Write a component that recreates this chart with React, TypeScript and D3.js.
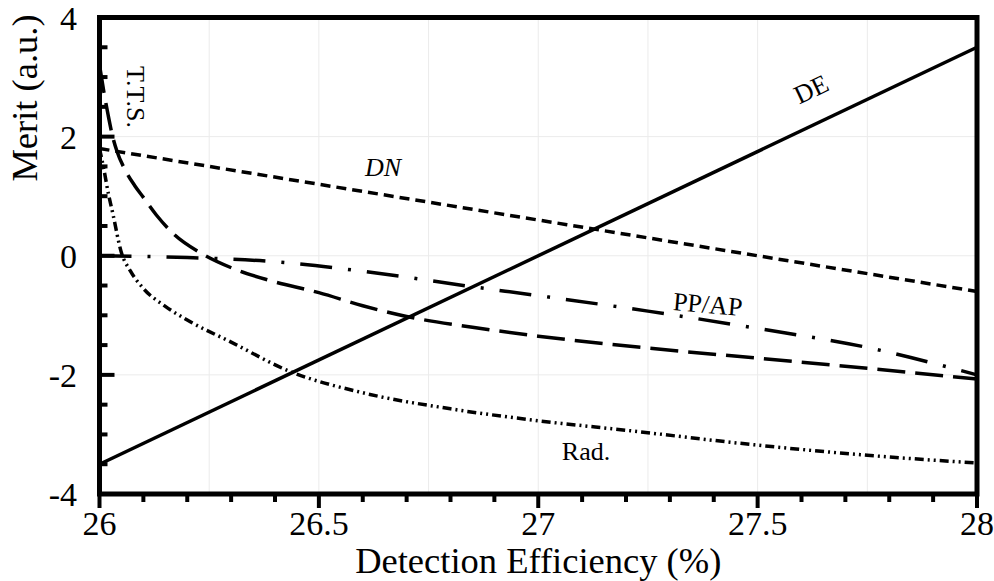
import React from "react";
import * as d3 from "d3";

const xTicksMajor = [26, 26.5, 27, 27.5, 28];
const xTickLabels = ["26", "26.5", "27", "27.5", "28"];
const yTicksMajor = [-4, -2, 0, 2, 4];
const yTickLabels = ["-4", "-2", "0", "2", "4"];

const deX = [26, 28];
const deY = [-3.5, 3.5];

const dnX = [26, 26.5, 27, 27.5, 28];
const dnY = [1.8, 1.2, 0.6, 0.0, -0.6];

const ttsX = [26.0, 26.01, 26.02, 26.03, 26.04, 26.06, 26.08, 26.1, 26.13, 26.17, 26.23, 26.31, 26.39, 26.5, 26.6, 26.7, 26.85, 27.0, 27.25, 27.5, 27.75, 28.0];
const ttsY = [3.2, 2.75, 2.35, 2.0, 1.75, 1.42, 1.18, 0.98, 0.68, 0.36, 0.05, -0.23, -0.42, -0.62, -0.84, -1.02, -1.2, -1.35, -1.55, -1.72, -1.89, -2.07];

const ppX = [26.0, 26.2, 26.4, 26.6, 26.85, 27.0, 27.25, 27.5, 27.75, 28.0];
const ppY = [0.0, -0.03, -0.1, -0.26, -0.52, -0.67, -0.93, -1.22, -1.54, -2.0];

const radX = [26.0, 26.01, 26.02, 26.03, 26.05, 26.07, 26.1, 26.15, 26.2, 26.3, 26.43, 26.6, 26.8, 27.0, 27.2, 27.5, 27.75, 28.0];
const radY = [1.8, 1.45, 1.05, 0.72, 0.05, -0.25, -0.55, -0.85, -1.08, -1.45, -1.93, -2.3, -2.57, -2.77, -2.93, -3.18, -3.35, -3.48];

const W = 994, H = 581;
const L = 99.5, R = 977, T = 17.5, B = 494;
const FONT = "Liberation Serif";

export default function App() {
  const x = d3.scaleLinear().domain([26, 28]).range([L, R]);
  const y = d3.scaleLinear().domain([-4, 4]).range([B, T]);
  const mk = (xs: number[], ys: number[]) =>
    d3.line<number>().x((_, i) => x(xs[i])).y((_, i) => y(ys[i])).curve(d3.curveMonotoneX)(xs) || "";

  const gridX = d3.range(0, 9).map((i) => 26 + i * 0.25);
  const gridY = [-2, 0, 2];
  const minorX = d3.range(1, 20).map((i) => 26 + i * 0.1).filter((v) => Math.abs(v * 2 - Math.round(v * 2)) > 1e-6);
  const minorY = d3.range(-4, 4.01, 0.5).filter((v) => Math.abs(v / 2 - Math.round(v / 2)) > 1e-6);

  const angDE = (Math.atan2(y(3.5) - y(-3.5), x(28) - x(26)) * 180) / Math.PI;
  const ts = { fontFamily: FONT };

  return (
    <svg width={W} height={H} style={{ position: "absolute", left: 0, top: 0, background: "#fff" }}>
      <g stroke="#ebebeb" strokeWidth={1}>
        {gridX.map((v) => (
          <line key={"gx" + v} x1={x(v)} x2={x(v)} y1={T} y2={B} />
        ))}
        {gridY.map((v) => (
          <line key={"gy" + v} x1={L} x2={R} y1={y(v)} y2={y(v)} />
        ))}
      </g>

      <g fill="none" stroke="#000" strokeWidth={3.5}>
        <path d={mk(deX, deY)} />
        <path d={mk(dnX, dnY)} strokeDasharray="10,6" />
        <path d={mk(ttsX, ttsY)} strokeDasharray="28,10" />
        <path d={mk(ppX, ppY)} strokeDasharray="32,16,3,16" />
        <path d={mk(radX, radY)} strokeDasharray="9,4,2,4,2,4" />
      </g>

      <rect x={L} y={T} width={R - L} height={B - T} fill="none" stroke="#000" strokeWidth={5} />

      <g stroke="#000" strokeWidth={4}>
        {xTicksMajor.map((v) => (
          <line key={"xM" + v} x1={x(v)} x2={x(v)} y1={B} y2={B + 14} />
        ))}
        {minorX.map((v) => (
          <line key={"xm" + v} x1={x(v)} x2={x(v)} y1={B} y2={B + 8} />
        ))}
        {yTicksMajor.map((v) => (
          <line key={"yM" + v} x1={L} x2={L + 15} y1={y(v)} y2={y(v)} />
        ))}
        {minorY.map((v) => (
          <line key={"ym" + v} x1={L} x2={L + 8} y1={y(v)} y2={y(v)} />
        ))}
      </g>

      <g fontSize={34} fill="#000">
        {xTicksMajor.map((v, i) => (
          <text key={"xl" + v} x={x(v)} y={535} textAnchor="middle" style={ts}>
            {xTickLabels[i]}
          </text>
        ))}
        {yTicksMajor.map((v, i) => (
          <text key={"yl" + v} x={77} y={y(v) + 12} textAnchor="end" style={ts}>
            {yTickLabels[i]}
          </text>
        ))}
      </g>

      <text x={(L + R) / 2} y={573} textAnchor="middle" fontSize={36.5} style={ts}>
        Detection Efficiency (%)
      </text>
      <text transform="translate(37,98) rotate(-90)" textAnchor="middle" fontSize={36.5} style={ts}>
        Merit (a.u.)
      </text>

      <g fontSize={26} fill="#000">
        <text transform={`translate(815,97) rotate(${angDE})`} textAnchor="middle" style={ts}>DE</text>
        <text x={383} y={176} textAnchor="middle" fontStyle="italic" style={ts}>DN</text>
        <text transform="translate(707,313) rotate(5)" textAnchor="middle" style={ts}>PP/AP</text>
        <text x={586} y={460} textAnchor="middle" style={ts}>Rad.</text>
        <text transform="translate(127,97) rotate(90)" textAnchor="middle" style={ts}>T.T.S.</text>
      </g>
    </svg>
  );
}
